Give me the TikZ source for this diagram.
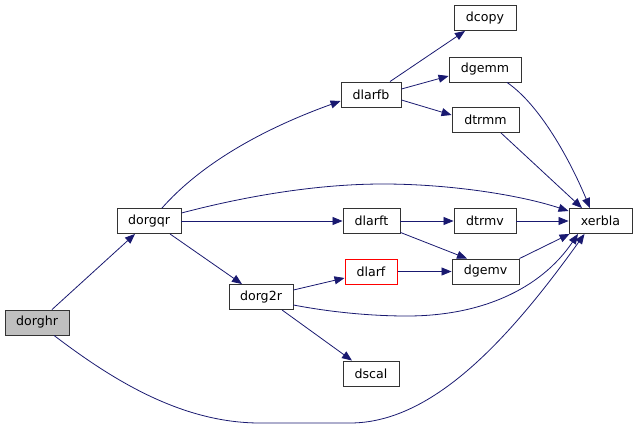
\documentclass[tikz,border=0pt]{standalone}
\usepackage{fontspec}
\setmainfont{DejaVu Sans}
\usetikzlibrary{arrows.meta,calc}
\definecolor{edgecol}{HTML}{191970}
\definecolor{boxline}{HTML}{333333}
\definecolor{rootfill}{HTML}{BFBFBF}
\begin{document}
\begin{tikzpicture}[x=1pt,y=-1pt,
  fnbase/.style={fill=white,line width=0.9pt,minimum height=25pt,inner sep=0pt,font=\fontsize{12.6}{14}\selectfont},
  fn/.style={fnbase,draw=boxline},
  fnred/.style={fnbase,draw=red,line width=1pt},
  edge/.style={draw=edgecol,line width=0.8pt,-{Triangle[length=10pt,width=8pt]}}]
\useasboundingbox (0,0) rectangle (637,429);
\node[fn,fill=rootfill,minimum width=64pt] (dorghr) at (37,322.5) {dorghr};
\node[fn,minimum width=64pt] (dorgqr) at (149,221) {dorgqr};
\node[fn,minimum width=60pt] (dlarfb) at (371,94.5) {dlarfb};
\node[fn,minimum width=57pt] (dlarft) at (371.5,221) {dlarft};
\node[fnred,minimum width=52pt] (dlarf) at (371,271.5) {dlarf};
\node[fn,minimum width=64pt] (dorg2r) at (261,297) {dorg2r};
\node[fn,minimum width=56pt] (dscal) at (371,373.5) {dscal};
\node[fn,minimum width=62pt] (dcopy) at (485,18) {dcopy};
\node[fn,minimum width=72pt] (dgemm) at (485,69.5) {dgemm};
\node[fn,minimum width=67pt] (dtrmm) at (485.5,120) {dtrmm};
\node[fn,minimum width=62pt] (dtrmv) at (485,221) {dtrmv};
\node[fn,minimum width=63pt] (xerbla) at (600.5,221) {xerbla};
\node[fn,minimum width=67pt] (dgemv) at (485.5,271.5) {dgemv};

% dorghr
\draw[edge] ($(dorghr.north)+(15,0)$) -- ($(dorgqr.south)+(-14,0)$);
\draw[edge] ($(dorghr.south)+(17,0)$) .. controls (110,378) and (180,423) .. (260,423)
  -- (350,423) .. controls (430,423) and (505,345) .. ($(xerbla.south)+(-16,0)$);
% dorgqr
\draw[edge] ($(dorgqr.north)+(13,0)$) .. controls (200,165) and (260,130) .. ($(dlarfb.west)+(0,6.5)$);
\draw[edge] ($(dorgqr.east)+(0,-8)$) .. controls (250,195) and (320,184) .. (383,184)
  .. controls (450,184) and (520,195) .. ($(xerbla.west)+(0,-10)$);
\draw[edge] (dorgqr.east) -- (dlarft.west);
\draw[edge] ($(dorgqr.south)+(21,0)$) -- ($(dorg2r.north)+(-19,0)$);
% dlarfb
\draw[edge] ($(dlarfb.north)+(19,0)$) -- ($(dcopy.south)+(-20,0)$);
\draw[edge] ($(dlarfb.east)+(0,-5.5)$) -- ($(dgemm.west)+(0,6.5)$);
\draw[edge] ($(dlarfb.east)+(0,5.5)$) -- ($(dtrmm.west)+(0,-5)$);
% to xerbla from top
\draw[edge] ($(dgemm.south)+(22,0)$) .. controls (540,105) and (570,160) .. ($(xerbla.north)+(-10.5,0)$);
\draw[edge] ($(dtrmm.south)+(15.5,0)$) -- ($(xerbla.north)+(-18.5,0)$);
% dlarft
\draw[edge] (dlarft.east) -- (dtrmv.west);
\draw[edge] ($(dlarft.south east)+(0,-1.5)$) -- ($(dgemv.north)+(-18.5,0)$);
\draw[edge] (dtrmv.east) -- (xerbla.west);
\draw[edge] (dgemv.north east) -- ($(xerbla.south west)+(1,0)$);
% dorg2r
\draw[edge] ($(dorg2r.east)+(0,-7)$) -- ($(dlarf.west)+(0,6.5)$);
\draw[edge] ($(dorg2r.east)+(0,8)$) .. controls (330,312) and (370,316) .. (407,316)
  .. controls (480,316) and (540,290) .. ($(xerbla.south)+(-22.5,0)$);
\draw[edge] ($(dorg2r.south)+(21,0)$) -- ($(dscal.north)+(-19,0)$);
\draw[edge] (dlarf.east) -- (dgemv.west);
\end{tikzpicture}
\end{document}
